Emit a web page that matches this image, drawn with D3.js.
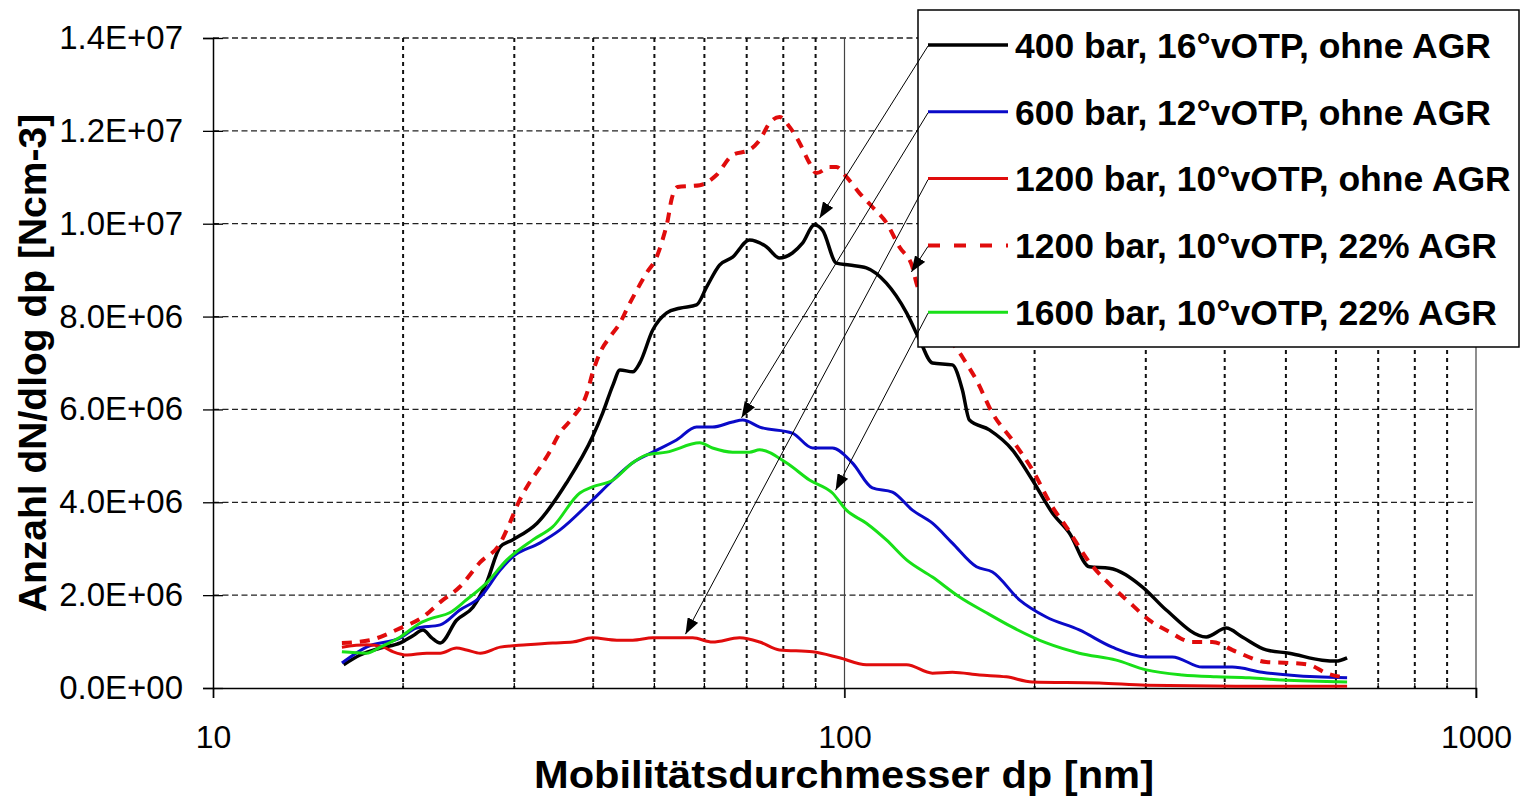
<!DOCTYPE html>
<html>
<head>
<meta charset="utf-8">
<script src="https://cdn.jsdelivr.net/npm/d3@7"></script>
<style>
  body { margin: 0; background: #fff; }
  svg { display: block; }
  text { font-family: "Liberation Sans", Arial, sans-serif; fill: #000; }
</style>
</head>
<body>
<div class="chart"></div>
<script>
// dp [nm], dN/dlog dp in units of 1E+06 Ncm-3
const bar400 = [
    [16.1, 0.50], [17.1, 0.71], [18.4, 0.86], [19.8, 0.97], [20.7, 1.12], [21.5, 1.25],
    [22.2, 1.08], [22.9, 0.97], [24.3, 1.46], [25.8, 1.74], [27.1, 2.26], [28.5, 3.04],
    [29.8, 3.19], [32.6, 3.55], [36.3, 4.42], [39.9, 5.41], [41.4, 5.92], [43.0, 6.53],
    [44.1, 6.85], [46.2, 6.81], [47.4, 7.00], [49.7, 7.71], [52.3, 8.08], [54.8, 8.18],
    [58.3, 8.25], [60.5, 8.64], [63.4, 9.11], [66.5, 9.28], [70.7, 9.65], [75.3, 9.50],
    [78.9, 9.26], [82.7, 9.37], [85.8, 9.58], [89.6, 9.97], [92.3, 9.86], [97.1, 9.15],
    [101.8, 9.11], [108.3, 9.05], [116.5, 8.72], [125.4, 8.08], [131.5, 7.50], [137.8, 7.00],
    [148.2, 6.96], [153.7, 6.42], [157.7, 5.77], [169.6, 5.56], [184.4, 5.13], [198.4, 4.48],
    [213.4, 3.77], [227.0, 3.34], [244.2, 2.61], [262.6, 2.58], [296.1, 2.18], [323.2, 1.68],
    [374.0, 1.10], [402.2, 1.29], [426.4, 1.10], [465.3, 0.82], [505.9, 0.75], [570.6, 0.60],
    [600.5, 0.58], [625.0, 0.65]
];
const bar600 = [
    [16.0, 0.54], [17.5, 0.88], [19.8, 1.08], [21.0, 1.29], [22.9, 1.36], [24.6, 1.68],
    [26.5, 1.96], [28.5, 2.54], [29.8, 2.82], [32.9, 3.12], [35.4, 3.40], [39.9, 4.05],
    [43.0, 4.48], [46.2, 4.85], [49.7, 5.08], [54.2, 5.34], [58.3, 5.62], [61.8, 5.62],
    [66.5, 5.73], [69.0, 5.77], [73.4, 5.62], [82.7, 5.49], [89.0, 5.17], [95.7, 5.17],
    [102.9, 4.85], [110.7, 4.31], [119.1, 4.22], [128.1, 3.83], [137.8, 3.55], [148.2, 3.12],
    [161.8, 2.61], [171.5, 2.50], [189.2, 1.90], [208.7, 1.53], [235.4, 1.25], [265.5, 0.88],
    [300.5, 0.67], [330.4, 0.67], [368.6, 0.45], [411.1, 0.45], [458.5, 0.34], [558.3, 0.24],
    [625.0, 0.22]
];
const bar1200 = [
    [16.0, 0.88], [17.5, 0.93], [18.6, 0.88], [19.3, 0.78], [20.3, 0.71], [21.8, 0.75],
    [22.9, 0.75], [24.3, 0.86], [25.2, 0.82], [26.5, 0.75], [28.5, 0.88], [31.4, 0.93],
    [34.5, 0.97], [37.1, 0.99], [39.9, 1.08], [43.6, 1.03], [46.2, 1.03], [49.7, 1.08],
    [57.5, 1.08], [61.8, 0.99], [68.2, 1.08], [73.4, 0.99], [78.9, 0.82], [89.0, 0.78],
    [98.2, 0.65], [108.3, 0.50], [125.4, 0.50], [137.8, 0.32], [148.2, 0.34], [163.6, 0.28],
    [180.4, 0.24], [198.4, 0.13], [253.2, 0.11], [300.5, 0.06], [437.3, 0.04], [625.0, 0.04]
];
const bar1200Agr = [
    [16.0, 0.97], [17.7, 1.03], [19.8, 1.29], [21.5, 1.53], [22.9, 1.85], [24.6, 2.18],
    [26.5, 2.71], [28.5, 3.12], [29.5, 3.55], [30.6, 4.05], [31.7, 4.42], [32.9, 4.74],
    [34.1, 5.08], [35.4, 5.49], [37.1, 5.82], [39.1, 6.35], [39.9, 6.78], [41.0, 7.22],
    [42.5, 7.56], [44.1, 7.86], [45.4, 8.21], [46.9, 8.57], [48.6, 8.94], [50.4, 9.28],
    [51.5, 9.65], [52.5, 10.08], [53.2, 10.51], [54.4, 10.79], [59.0, 10.83], [62.7, 11.05],
    [66.5, 11.48], [70.7, 11.59], [73.4, 11.80], [76.1, 12.17], [78.9, 12.30], [81.9, 12.08],
    [84.9, 11.74], [88.0, 11.31], [90.3, 11.09], [94.7, 11.22], [97.1, 11.22], [100.7, 11.01],
    [105.6, 10.66], [110.7, 10.36], [116.5, 10.02], [122.2, 9.50], [128.1, 9.07], [130.0, 8.72],
    [153.7, 7.13], [161.8, 6.63], [171.5, 5.92], [184.4, 5.34], [198.4, 4.70], [213.4, 3.90],
    [224.5, 3.47], [244.2, 2.71], [265.5, 2.18], [282.4, 1.85], [303.8, 1.46], [326.8, 1.21],
    [355.3, 0.99], [382.2, 0.99], [417.2, 0.78], [465.3, 0.56], [505.9, 0.54], [544.3, 0.50],
    [578.9, 0.32], [625.0, 0.22]
];
const bar1600Agr = [
    [16.0, 0.78], [17.5, 0.75], [18.4, 0.88], [19.8, 1.10], [21.3, 1.40], [22.3, 1.51],
    [23.7, 1.62], [25.2, 1.90], [27.1, 2.26], [29.2, 2.76], [32.1, 3.19], [34.5, 3.47],
    [38.1, 4.20], [39.9, 4.33], [43.0, 4.48], [46.2, 4.85], [48.6, 5.02], [52.3, 5.08],
    [59.0, 5.28], [61.8, 5.17], [66.5, 5.08], [70.7, 5.08], [73.4, 5.13], [80.9, 4.85],
    [88.0, 4.48], [95.7, 4.20], [100.7, 3.83], [108.3, 3.55], [116.5, 3.19], [125.4, 2.76],
    [137.8, 2.39], [152.1, 1.96], [167.8, 1.62], [184.4, 1.31], [208.7, 0.97], [235.4, 0.75],
    [269.4, 0.60], [300.5, 0.39], [342.6, 0.28], [387.8, 0.24], [437.3, 0.22], [493.2, 0.17],
    [625.0, 0.13]
];

const legendLabels = [
    "400 bar, 16°vOTP, ohne AGR",
    "600 bar, 12°vOTP, ohne AGR",
    "1200 bar, 10°vOTP, ohne AGR",
    "1200 bar, 10°vOTP, 22% AGR",
    "1600 bar, 10°vOTP, 22% AGR"
];
// arrow tips pointing at each curve [dp, value]
const arrowTips = [[91.3, 10.12], [68.7, 5.82], [56.0, 1.16], [127.6, 8.96], [96.8, 4.26]];

const yTicks = [0, 2, 4, 6, 8, 10, 12, 14];
const xMajor = [10, 100, 1000];
const xMinor = [20, 30, 40, 50, 60, 70, 80, 90, 200, 300, 400, 500, 600, 700, 800, 900];

const series = [
    { data: bar400, color: "#000000", width: 3.5, dash: null },
    { data: bar600, color: "#0a0ac8", width: 3, dash: null },
    { data: bar1200, color: "#e00c0c", width: 3, dash: null },
    { data: bar1200Agr, color: "#e00c0c", width: 4, dash: "10,8" },
    { data: bar1600Agr, color: "#18e018", width: 3, dash: null }
];

const w = 1522;
const h = 799;
const plotLeft = 213, plotRight = 1476, plotTop = 38, plotBottom = 688;

const xScale = d3.scaleLog().domain([10, 1000]).range([plotLeft, plotRight]);
const yScale = d3.scaleLinear().domain([0, 14]).range([plotBottom, plotTop]);

// Excel style 0.0E+00
const sci = v => {
    const s = d3.format(".1e")(v * 1e6);
    const [m, e] = s.split("e");
    return m + "E" + e[0] + e.slice(1).padStart(2, "0");
};

const svg = d3.select(".chart").append("svg").attr("width", w).attr("height", h);

svg.append("defs").append("marker")
    .attr("id", "arrow")
    .attr("markerUnits", "userSpaceOnUse")
    .attr("viewBox", "0 0 16 12")
    .attr("refX", 16).attr("refY", 6)
    .attr("markerWidth", 16).attr("markerHeight", 12)
    .attr("orient", "auto")
    .append("path").attr("d", "M0,0 L16,6 L0,12 Z").attr("fill", "#000");

// grid
svg.append("g").selectAll("line")
    .data(yTicks.filter(d => d > 0))
    .enter().append("line")
    .attr("x1", plotLeft).attr("x2", plotRight)
    .attr("y1", d => yScale(d)).attr("y2", d => yScale(d))
    .attr("stroke", "#222").attr("stroke-width", 1.3).attr("stroke-dasharray", "6,3.5");

svg.append("g").selectAll("line")
    .data(xMinor)
    .enter().append("line")
    .attr("x1", d => xScale(d)).attr("x2", d => xScale(d))
    .attr("y1", plotTop).attr("y2", plotBottom)
    .attr("stroke", "#111").attr("stroke-width", 2).attr("stroke-dasharray", "4,4");

svg.append("g").selectAll("line")
    .data(xMajor.slice(1))
    .enter().append("line")
    .attr("x1", d => xScale(d)).attr("x2", d => xScale(d))
    .attr("y1", plotTop).attr("y2", plotBottom + 10)
    .attr("stroke", "#444").attr("stroke-width", 1.2);

// axes
const yAxis = d3.axisLeft(yScale).tickValues(yTicks).tickFormat(sci).tickSize(10).tickPadding(20);
const yG = svg.append("g").attr("transform", "translate(" + plotLeft + ",0)").call(yAxis);
yG.select(".domain").attr("stroke-width", 1.5);
yG.selectAll(".tick line").attr("x2", -10).attr("x1", 10).attr("stroke-width", 1.3);
yG.selectAll("text").attr("font-size", 33).attr("font-family", "Liberation Sans, Arial, sans-serif");

const xAxis = d3.axisBottom(xScale).tickValues(xMajor).tickFormat(d3.format("d")).tickSize(10).tickPadding(27);
const xG = svg.append("g").attr("transform", "translate(0," + plotBottom + ")").call(xAxis);
xG.select(".domain").attr("stroke-width", 1.5);
xG.selectAll(".tick line").attr("stroke-width", 1.3);
xG.selectAll("text").attr("font-size", 32).attr("font-family", "Liberation Sans, Arial, sans-serif");

svg.append("g").selectAll("line")
    .data(xMinor)
    .enter().append("line")
    .attr("x1", d => xScale(d)).attr("x2", d => xScale(d))
    .attr("y1", plotBottom - 5).attr("y2", plotBottom)
    .attr("stroke", "#000").attr("stroke-width", 1.2);

// curves
const line = d3.line().x(d => xScale(d[0])).y(d => yScale(d[1])).curve(d3.curveMonotoneX);
svg.append("g").selectAll("path")
    .data(series)
    .enter().append("path")
    .attr("d", d => line(d.data))
    .attr("fill", "none")
    .attr("stroke", d => d.color)
    .attr("stroke-width", d => d.width)
    .attr("stroke-linejoin", "round")
    .attr("stroke-dasharray", d => d.dash);

// axis titles
svg.append("text")
    .attr("x", 844).attr("y", 788)
    .attr("text-anchor", "middle")
    .attr("font-size", 38).attr("font-weight", "bold")
    .attr("textLength", 620).attr("lengthAdjust", "spacingAndGlyphs")
    .text("Mobilitätsdurchmesser dp [nm]");

svg.append("text")
    .attr("transform", "translate(46," + (plotBottom + plotTop) / 2 + ") rotate(-90)")
    .attr("text-anchor", "middle")
    .attr("font-size", 39).attr("font-weight", "bold")
    .text("Anzahl dN/dlog dp [Ncm-3]");

// legend
const legX = 918, legY = 10, legW = 601, legH = 337;
const rowY = i => 45 + i * 66.8;
const legend = svg.append("g");
legend.append("rect")
    .attr("x", legX).attr("y", legY).attr("width", legW).attr("height", legH)
    .attr("fill", "#fff").attr("stroke", "#000").attr("stroke-width", 1.5);

const rows = legend.selectAll(".row").data(series).enter().append("g").attr("class", "row");
rows.append("line")
    .attr("x1", 928).attr("x2", 1008)
    .attr("y1", (d, i) => rowY(i)).attr("y2", (d, i) => rowY(i))
    .attr("stroke", d => d.color)
    .attr("stroke-width", d => d.width)
    .attr("stroke-dasharray", d => d.dash ? "12,14" : null);
rows.append("text")
    .attr("x", 1015).attr("y", (d, i) => rowY(i)).attr("dy", "0.36em")
    .attr("font-size", 35.5).attr("font-weight", "bold")
    .text((d, i) => legendLabels[i]);

// arrows from legend to curves
svg.append("g").selectAll("line")
    .data(arrowTips)
    .enter().append("line")
    .attr("x1", 928).attr("y1", (d, i) => rowY(i) + 1)
    .attr("x2", d => xScale(d[0])).attr("y2", d => yScale(d[1]))
    .attr("stroke", "#000").attr("stroke-width", 1)
    .attr("marker-end", "url(#arrow)");
</script>
</body>
</html>
